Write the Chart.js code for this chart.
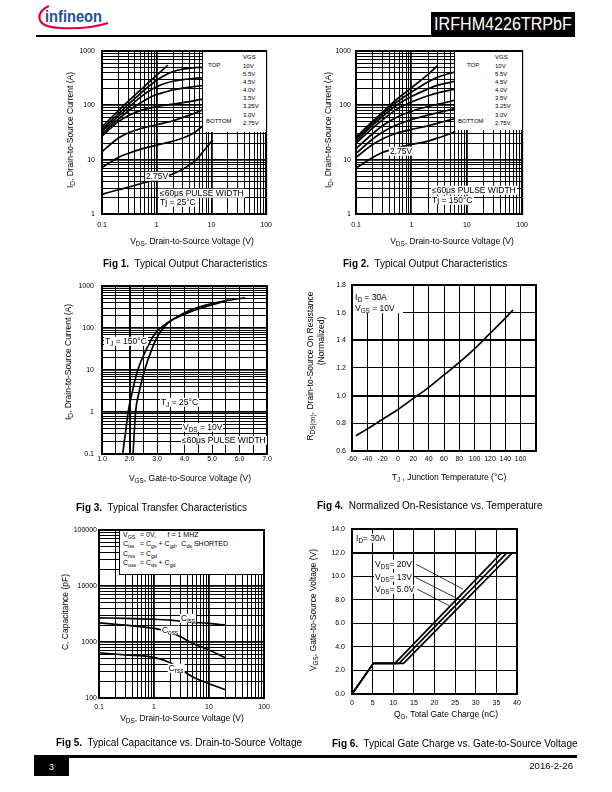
<!DOCTYPE html>
<html>
<head>
<meta charset="utf-8">
<script src="https://cdn.jsdelivr.net/npm/chart.js@4.4.1/dist/chart.umd.min.js"></script>
<style>
  body { margin:0; width:612px; height:792px; position:relative; background:#fff; overflow:hidden;
         font-family:'Liberation Sans', Arial, sans-serif; color:#000; }
  canvas { position:absolute; z-index:1; }
  .a { position:absolute; white-space:nowrap; line-height:1; z-index:2; }
  .c { transform:translate(-50%,-50%); }
  .l { transform:translateY(-50%); }
  .r { transform:translate(-50%,-50%) rotate(-90deg); }
  .ttl { font-size:8.5px; }
  .cap { font-size:10px; }
  .lg { font-size:6px; }
  .lg5 { font-size:7px; }
  .note { font-size:8.5px; background:#fff; padding:0 1px; }
  .wb { background:#fff; }
  sub { font-size:75%; vertical-align:baseline; position:relative; top:.35em; }
</style>
</head>
<body>

<!-- ── Header ─────────────────────────────────────────────── -->
<svg class="a" style="left:30px;top:3px" width="84" height="34">
  <path d="M19 3 C 6 8, 3 24, 30 25 C 50 26, 66 24, 78 20" stroke="#e2003c" stroke-width="2.2" fill="none"/>
  <text x="15" y="18.7" fill="#1c4f9e" font-size="16" font-weight="bold"
        font-family="Liberation Sans Narrow, Liberation Sans" textLength="57" lengthAdjust="spacingAndGlyphs">infineon</text>
</svg>
<div class="a" style="left:36px;top:34.5px;width:539px;height:2.5px;background:#000"></div>
<div class="a" style="left:431px;top:12px;width:144px;height:25px;background:#000"></div>
<div class="a c" style="left:503px;top:25px;color:#fff;font-size:17.5px;transform:translate(-50%,-50%) scaleX(0.92)">IRFHM4226TRPbF</div>

<!-- ── Fig 1 texts ────────────────────────────────────────── -->
<div class="a ttl r" style="left:70px;top:130px">I<sub>D</sub>, Drain-to-Source Current (A)</div>
<div class="a ttl c" style="left:192px;top:241px">V<sub>DS</sub>, Drain-to-Source Voltage (V)</div>
<div class="a cap l" style="left:103px;top:264px"><b>Fig 1.</b>&nbsp; Typical Output Characteristics</div>
<div class="a wb" style="left:203px;top:52px;width:63px;height:80px"></div>
<div class="a lg" style="left:243px;top:54px">VGS</div>
<div class="a lg" style="left:208px;top:62px">TOP</div>
<div class="a lg" style="left:206px;top:118px">BOTTOM</div>
<div class="a lg" style="left:243px;top:62px;line-height:8.1px">10V<br>5.5V<br>4.5V<br>4.0V<br>3.5V<br>3.25V<br>3.0V<br>2.75V</div>
<div class="a note c" style="left:157px;top:176px">2.75V</div>
<div class="a note l" style="left:159px;top:193px">&le;60&mu;s PULSE WIDTH</div>
<div class="a note l" style="left:159px;top:202px">Tj = 25&deg;C</div>

<!-- ── Fig 2 texts ────────────────────────────────────────── -->
<div class="a ttl r" style="left:328px;top:130px">I<sub>D</sub>, Drain-to-Source Current (A)</div>
<div class="a ttl c" style="left:452px;top:241px">V<sub>DS</sub>, Drain-to-Source Voltage (V)</div>
<div class="a cap l" style="left:343px;top:264px"><b>Fig 2.</b>&nbsp; Typical Output Characteristics</div>
<div class="a wb" style="left:455px;top:52px;width:67px;height:78px"></div>
<div class="a lg" style="left:495px;top:54px">VGS</div>
<div class="a lg" style="left:467px;top:62px">TOP</div>
<div class="a lg" style="left:458px;top:118px">BOTTOM</div>
<div class="a lg" style="left:495px;top:62px;line-height:8.1px">10V<br>5.5V<br>4.5V<br>4.0V<br>3.5V<br>3.25V<br>3.0V<br>2.75V</div>
<div class="a note c" style="left:401px;top:151px">2.75V</div>
<div class="a note l" style="left:431px;top:190px">&le;60&mu;s PULSE WIDTH</div>
<div class="a note l" style="left:431px;top:200px">Tj = 150&deg;C</div>

<!-- ── Fig 3 texts ────────────────────────────────────────── -->
<div class="a ttl r" style="left:68px;top:362px">I<sub>D</sub>, Drain-to-Source Current (A)</div>
<div class="a ttl c" style="left:190px;top:478px">V<sub>GS</sub>, Gate-to-Source Voltage (V)</div>
<div class="a cap l" style="left:76px;top:508px"><b>Fig 3.</b>&nbsp; Typical Transfer Characteristics</div>
<div class="a note l" style="left:104px;top:341px">T<sub>J</sub> = 150&deg;C</div>
<div class="a note l" style="left:160px;top:402px">T<sub>J</sub> = 25&deg;C</div>
<div class="a note l" style="left:182px;top:427px">V<sub>DS</sub> = 10V</div>
<div class="a note l" style="left:181px;top:440px">&le;60&mu;s PULSE WIDTH</div>

<!-- ── Fig 4 texts ────────────────────────────────────────── -->
<div class="a ttl r" style="left:310px;top:366px">R<sub>DS(on)</sub>, Drain-to-Source On Resistance</div>
<div class="a ttl r" style="left:321px;top:341px">(Normalized)</div>
<div class="a ttl c" style="left:449px;top:477px">T<sub>J</sub> , Junction Temperature (&deg;C)</div>
<div class="a cap l" style="left:317px;top:506px"><b>Fig 4.</b>&nbsp; Normalized On-Resistance vs. Temperature</div>
<div class="a wb" style="left:353px;top:286px;width:50px;height:27px"></div>
<div class="a ttl l" style="left:355px;top:297px">I<sub>D</sub> = 30A</div>
<div class="a ttl l" style="left:355px;top:308px">V<sub>GS</sub> = 10V</div>

<!-- ── Fig 5 texts ────────────────────────────────────────── -->
<div class="a ttl r" style="left:65px;top:612px">C, Capacitance (pF)</div>
<div class="a ttl c" style="left:182px;top:718px">V<sub>DS</sub>, Drain-to-Source Voltage (V)</div>
<div class="a cap l" style="left:56px;top:743px"><b>Fig 5.</b>&nbsp; Typical Capacitance vs. Drain-to-Source Voltage</div>
<div class="a wb" style="left:119px;top:531px;width:143px;height:43px;border-left:1px solid #000;border-bottom:1px solid #000"></div>
<div class="a lg5 l" style="left:123px;top:535px"><span style="display:inline-block;width:17px">V<sub>GS</sub></span>= 0V,&nbsp;&nbsp;&nbsp;&nbsp;&nbsp; f = 1 MHZ</div>
<div class="a lg5 l" style="left:123px;top:544px"><span style="display:inline-block;width:17px">C<sub>iss</sub></span>= C<sub>gs</sub> + C<sub>gd</sub>,&nbsp; C<sub>ds</sub> SHORTED</div>
<div class="a lg5 l" style="left:123px;top:554px"><span style="display:inline-block;width:17px">C<sub>rss</sub></span>= C<sub>gd</sub></div>
<div class="a lg5 l" style="left:123px;top:563px"><span style="display:inline-block;width:17px">C<sub>oss</sub></span>= C<sub>ds</sub> + C<sub>gd</sub></div>
<div class="a note c" style="left:188px;top:618px">C<sub>iss</sub></div>
<div class="a note c" style="left:170px;top:630px">C<sub>oss</sub></div>
<div class="a note c" style="left:176px;top:668px">C<sub>rss</sub></div>

<!-- ── Fig 6 texts ────────────────────────────────────────── -->
<div class="a ttl r" style="left:313px;top:610px">V<sub>GS</sub>, Gate-to-Source Voltage (V)</div>
<div class="a ttl c" style="left:446px;top:714px">Q<sub>G</sub>, Total Gate Charge (nC)</div>
<div class="a cap l" style="left:332px;top:744px"><b>Fig 6.</b>&nbsp; Typical Gate Charge vs. Gate-to-Source Voltage</div>
<div class="a note l" style="left:355px;top:538px">I<sub>D</sub>= 30A</div>
<div class="a note l" style="left:374px;top:564px">V<sub>DS</sub>= 20V</div>
<div class="a note l" style="left:374px;top:577px">V<sub>DS</sub>= 13V</div>
<div class="a note l" style="left:374px;top:589px">V<sub>DS</sub>= 5.0V</div>

<!-- ── Footer ─────────────────────────────────────────────── -->
<div class="a" style="left:34px;top:755px;width:543px;height:2.5px;background:#000"></div>
<div class="a" style="left:34px;top:756px;width:35px;height:20px;background:#000"></div>
<div class="a c" style="left:51.5px;top:767px;color:#fff;font-size:9px">3</div>
<div class="a l" style="left:513px;top:766px;width:60px;text-align:right;font-size:9.6px">2016-2-26</div>

<script>
// ═══════════════════════════════════════════════════════════════
// IRFHM4226TRPbF – typical characteristics page
// ═══════════════════════════════════════════════════════════════

// ── Fig 1: Output characteristics, Tj = 25°C  [VDS (V), ID (A)] ──
const fig1Vgs10   = [[0.1,40],[0.2,80],[0.3,118],[0.5,190],[0.7,260],[1,360],[1.3,455],[1.6,550]];
const fig1Vgs55   = [[0.1,36],[0.2,70],[0.3,103],[0.5,165],[0.7,220],[1,290],[1.5,370],[2,420],[3,465],[5,495],[6.8,500]];
const fig1Vgs45   = [[0.1,33],[0.2,63],[0.3,90],[0.5,140],[0.7,180],[1,220],[1.5,258],[2,278],[3,298],[5,315],[6.8,322]];
const fig1Vgs40   = [[0.1,30],[0.2,56],[0.3,78],[0.5,110],[0.7,135],[1,158],[1.5,178],[2,192],[3,207],[5,222],[6.8,232]];
const fig1Vgs35   = [[0.1,27],[0.2,50],[0.3,64],[0.5,80],[1,95],[2,105],[3,112],[5,122],[6.8,130]];
const fig1Vgs325  = [[0.1,14],[0.2,25],[0.3,31],[0.5,37],[1,44],[2,52],[3,60],[5,72],[6.8,82]];
const fig1Vgs30   = [[0.1,7.2],[0.2,11],[0.3,13],[0.5,15.5],[1,18.5],[2,22],[3,25],[5,32],[6.8,41]];
const fig1Vgs275  = [[0.1,2.3],[0.2,2.8],[0.3,3.1],[0.5,3.6],[1,4.3],[2,5.5],[3,6.7],[5,9.5],[7,14],[10.5,23]];

// ── Fig 2: Output characteristics, Tj = 150°C ──
const fig2Vgs10   = [[0.1,26],[0.2,51],[0.3,75],[0.5,120],[1,210],[2,370],[3,550]];
const fig2Vgs55   = [[0.1,24],[0.2,47],[0.3,69],[0.5,108],[1,175],[2,270],[3,330],[5,390],[6.2,410]];
const fig2Vgs45   = [[0.1,22],[0.2,43],[0.3,62],[0.5,95],[1,145],[2,200],[3,235],[5,265],[6.2,280]];
const fig2Vgs40   = [[0.1,20],[0.2,38],[0.3,54],[0.5,80],[1,115],[2,150],[3,170],[5,190],[6.2,200]];
const fig2Vgs35   = [[0.1,16],[0.2,30],[0.3,42],[0.5,58],[1,78],[2,95],[3,105],[5,118],[6.2,125]];
const fig2Vgs325  = [[0.1,13],[0.2,24],[0.3,32],[0.5,42],[1,55],[2,66],[3,73],[5,83],[6.2,88]];
const fig2Vgs30   = [[0.1,11],[0.2,19],[0.3,24],[0.5,30],[1,36],[2,42],[3,47],[5,54],[6.2,57]];
const fig2Vgs275  = [[0.1,7],[0.2,11],[0.3,13.5],[0.5,16],[1,19],[2,22],[3,25],[5,30],[6.2,33]];

// ── Fig 3: Transfer characteristics  [VGS (V), ID (A)] ──
const fig3Tj150 = [[1.75,0.1],[1.85,0.3],[1.95,1],[2.1,3],[2.3,10],[2.6,30],[2.9,70],[3.2,110],[3.6,165],[4,215],[4.5,285],[5,360],[5.6,470]];
const fig3Tj25  = [[2.13,0.1],[2.17,0.3],[2.22,1],[2.35,3],[2.55,10],[2.8,30],[3.0,60],[3.3,115],[3.7,180],[4.2,265],[4.8,360],[5.5,450],[6.2,530]];

// ── Fig 4: Normalized RDS(on) vs TJ  [°C, ratio] ──
const fig4Temp  = [-55,-40,-20,0,20,40,60,80,100,120,140,150];
const fig4Rdson = [0.71,0.76,0.83,0.90,0.98,1.06,1.15,1.24,1.34,1.45,1.56,1.62];

// ── Fig 5: Capacitance vs VDS  [V, pF] ──
const fig5Vds  = [0.1,0.3,1,2,3,5,10,20];
const fig5Ciss = [2700,2650,2550,2450,2350,2250,2150,2000];
const fig5Coss = [2200,2000,1750,1500,1250,950,720,520];
const fig5Crss = [640,590,530,420,330,240,180,140];

// ── Fig 6: Gate charge  [QG (nC), VGS (V)] ──
const fig6Vds20 = [[0,0],[5.2,2.6],[12.5,2.6],[38.9,12]];
const fig6Vds13 = [[0,0],[5.2,2.6],[11.4,2.6],[37.6,12]];
const fig6Vds5  = [[0,0],[5.2,2.6],[10.4,2.6],[36.3,12]];
const fig6Leaders = [[15.6,11.0,26.9,8.9],[15.4,9.9,25.5,8.1],[15.8,8.9,23.5,7.5]];

// ── Tick labels ──
const decadeLabels = [0.1,1,10,100,1000,10000,100000];


// ── Helpers ────────────────────────────────────────────────────
const PAD = 12, YW = 40, XH = 22;
const FONT = { family:'Liberation Sans', size:7 };

function isDecade(v) {
  const l = Math.log10(v);
  return Math.abs(l - Math.round(l)) < 1e-6;
}

function logTickValues(min, max) {
  const out = [];
  for (let e = Math.round(Math.log10(min)); e < Math.round(Math.log10(max)); e++)
    for (let m = 1; m < 10; m++) out.push(+(m * Math.pow(10, e)).toPrecision(6));
  out.push(max);
  return out;
}

function logAxis(min, max, pad) {
  return {
    type: 'logarithmic', min, max,
    afterBuildTicks: s => { s.ticks = logTickValues(min, max).map(v => ({ value: v })); },
    grid: { color:'#000', drawTicks:false, lineWidth: c => (c.tick && isDecade(c.tick.value)) ? 1.8 : 1 },
    border: { display:false },
    ticks: { autoSkip:false, maxRotation:0, padding:pad, color:'#000', font:FONT,
             callback: v => decadeLabels.some(d => Math.abs(d - v) < d * 1e-6) ? String(v) : '' }
  };
}

function linAxis(min, max, step, pad, fmt, thick) {
  return {
    type: 'linear', min, max,
    grid: { color:'#000', drawTicks:false,
            lineWidth: c => (c.tick && thick.some(t => Math.abs(t - c.tick.value) < 1e-6)) ? 2 : 1 },
    border: { display:false },
    ticks: { stepSize:step, autoSkip:false, maxRotation:0, padding:pad, color:'#000', font:FONT, callback:fmt }
  };
}

function pts(pairs) { return pairs.map(([x, y]) => ({ x, y })); }
function zip(xs, ys) { return xs.map((x, i) => ({ x, y: ys[i] })); }

const framePlugin = {
  id: 'frame',
  afterDraw(chart) {
    const { ctx, chartArea: a } = chart;
    ctx.save();
    ctx.strokeStyle = '#000';
    ctx.lineWidth = 2;
    ctx.strokeRect(a.left, a.top, a.right - a.left, a.bottom - a.top);
    ctx.restore();
  }
};

function makeChart(rect, xAxis, yAxis, series, smooth, extra) {
  const [L, T, R, B] = rect;
  const w = R - L + PAD * 2 + YW, h = B - T + PAD * 2 + XH;
  const cv = document.createElement('canvas');
  cv.width = w; cv.height = h;
  cv.style.left = (L - PAD - YW) + 'px';
  cv.style.top = (T - PAD) + 'px';
  cv.style.width = w + 'px';
  cv.style.height = h + 'px';
  document.body.appendChild(cv);

  xAxis.afterFit = s => { s.height = XH; };
  yAxis.afterFit = s => { s.width = YW; };

  return new Chart(cv, {
    type: 'line',
    data: {
      datasets: series.map(d => ({
        data: d, borderColor:'#000', borderWidth:1.7, pointRadius:0,
        cubicInterpolationMode: smooth ? 'monotone' : 'default', tension: 0
      }))
    },
    options: {
      responsive: false,
      animation: false,
      layout: { padding: PAD },
      plugins: { legend:{ display:false }, tooltip:{ enabled:false } },
      scales: { x: xAxis, y: yAxis }
    },
    plugins: [framePlugin].concat(extra || [])
  });
}

const leaderPlugin = {
  id: 'leaders',
  afterDatasetsDraw(chart) {
    const { ctx, scales: { x, y } } = chart;
    ctx.save();
    ctx.strokeStyle = '#000';
    ctx.lineWidth = 0.8;
    fig6Leaders.forEach(([x0, y0, x1, y1]) => {
      ctx.beginPath();
      ctx.moveTo(x.getPixelForValue(x0), y.getPixelForValue(y0));
      ctx.lineTo(x.getPixelForValue(x1), y.getPixelForValue(y1));
      ctx.stroke();
    });
    ctx.restore();
  }
};


// ── Build charts ───────────────────────────────────────────────
makeChart([102, 51, 267, 214], logAxis(0.1, 100, 7), logAxis(1, 1000, 7),
  [fig1Vgs10, fig1Vgs55, fig1Vgs45, fig1Vgs40, fig1Vgs35, fig1Vgs325, fig1Vgs30, fig1Vgs275].map(pts), true);

makeChart([356, 51, 523, 214], logAxis(0.1, 100, 7), logAxis(1, 1000, 5),
  [fig2Vgs10, fig2Vgs55, fig2Vgs45, fig2Vgs40, fig2Vgs35, fig2Vgs325, fig2Vgs30, fig2Vgs275].map(pts), true);

makeChart([102, 286, 267, 454],
  linAxis(1, 7, 0.5, 1, v => Number.isInteger(v) ? v.toFixed(1) : '', [2]),
  logAxis(0.1, 1000, 8),
  [fig3Tj150, fig3Tj25].map(pts), true);

makeChart([352, 285, 536, 451],
  linAxis(-60, 180, 20, 4, v => v === 180 ? '' : String(v), []),
  linAxis(0.6, 1.8, 0.2, 6, v => v.toFixed(1), [1.0, 1.4]),
  [zip(fig4Temp, fig4Rdson)], true);

makeChart([99, 530, 264, 698], logAxis(0.1, 100, 5), logAxis(100, 100000, 2),
  [zip(fig5Vds, fig5Ciss), zip(fig5Vds, fig5Coss), zip(fig5Vds, fig5Crss)], true);

makeChart([352, 529, 517, 694],
  linAxis(0, 40, 5, 5, v => String(v), []),
  linAxis(0, 14, 2, 7, v => v.toFixed(1), [12]),
  [fig6Vds20, fig6Vds13, fig6Vds5].map(pts), false, [leaderPlugin]);
</script>
</body>
</html>
